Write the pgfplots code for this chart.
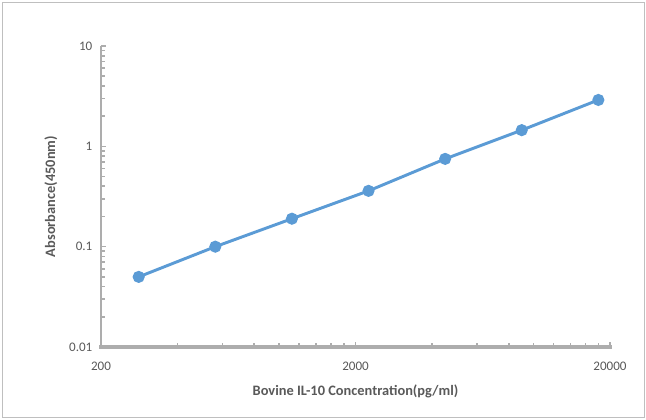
\documentclass[border=0pt]{standalone}
\usepackage{fontspec}
\setmainfont{Carlito}
\usepackage{pgfplots}
\pgfplotsset{compat=1.18}
\definecolor{axgray}{HTML}{ADADAD}
\definecolor{framegray}{HTML}{BFBFBF}
\definecolor{txtgray}{HTML}{595959}
\definecolor{lineblue}{HTML}{5B9BD5}
\begin{document}
\begin{tikzpicture}
  \useasboundingbox (-75.75pt,-54pt) rectangle (408.75pt,260.25pt);
  \draw[framegray, line width=0.6pt] (-74.25pt,-52.5pt) rectangle (407.25pt,258.75pt);
  \begin{axis}[
      at={(0,0)}, anchor=south west,
      scale only axis,
      width=381.75pt, height=225.75pt,
      xmode=log, ymode=log,
      xmin=200, xmax=20000,
      ymin=0.01, ymax=10,
      axis x line*=bottom, axis y line*=left,
      axis line style={-, draw=none},
      xtick={200,2000,20000},
      xticklabels={200,2000,20000},
      minor xtick={400,600,800,1000,1200,1400,1600,1800,4000,6000,8000,10000,12000,14000,16000,18000},
      ytick={0.01,0.1,1,10},
      yticklabels={0.01,0.1,1,10},
      minor ytick={0.02,0.03,0.04,0.05,0.06,0.07,0.08,0.09,0.2,0.3,0.4,0.5,0.6,0.7,0.8,0.9,2,3,4,5,6,7,8,9},
      tick style={axgray, line width=1.2pt},
      major tick length=4pt, minor tick length=3pt,
      tick align=inside,
      tick label style={font=\fontsize{9.8}{11}\selectfont, text=txtgray},
      xticklabel style={yshift=-7.5pt},
      yticklabel style={xshift=-3pt},
      xlabel={\textbf{Bovine IL-10 Concentration(pg/ml)}},
      ylabel={\textbf{Absorbance(450nm)}},
      label style={font=\fontsize{10.8}{12}\selectfont, text=txtgray},
      xlabel style={yshift=-4pt},
      ylabel style={yshift=2pt},
      clip=false,
    ]
    \addplot[lineblue, line width=2.2pt, mark=*, mark size=3.4pt,
             mark options={fill=lineblue, draw=none}]
      coordinates {
      (281.25,0.05)
      (562.5,0.1)
      (1125,0.19)
      (2250,0.36)
      (4500,0.75)
      (9000,1.45)
      (18000,2.9)
    };
  \end{axis}
  \fill[axgray] (-1pt,0pt) rectangle (1pt,225.75pt);
  \fill[axgray] (-1.8pt,-1.8pt) rectangle (383.5pt,1.8pt);
\end{tikzpicture}
\end{document}
